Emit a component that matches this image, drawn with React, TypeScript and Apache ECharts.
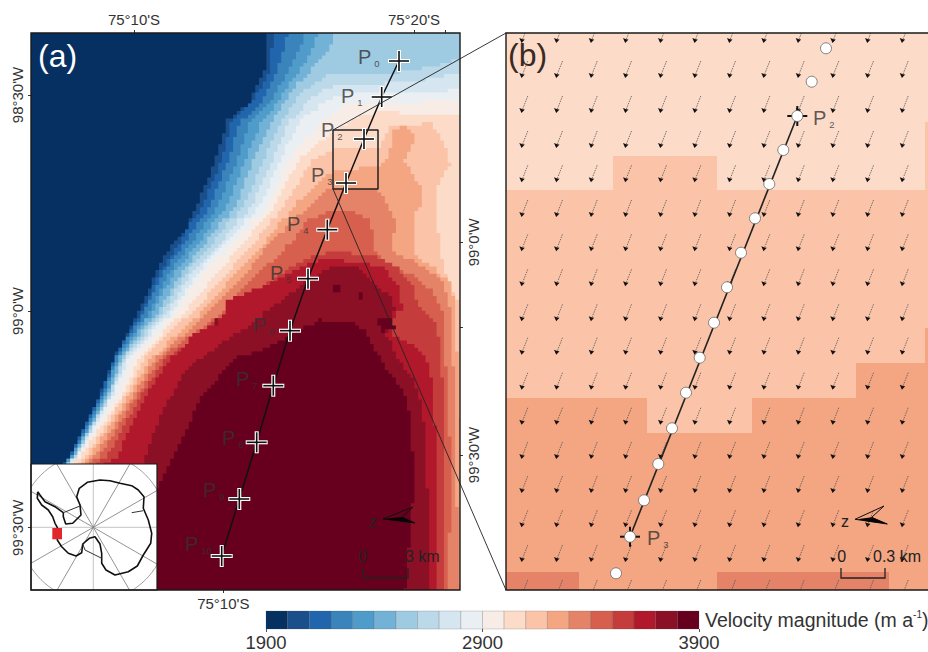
import React, { useEffect, useRef } from "react";
import * as echarts from "echarts";

const FONT = '"Liberation Sans", Arial, sans-serif';

// Velocity colour classes, 1900 to 3900 m/a
const bandColors = ["#053061","#1b4f8c","#2166ac","#3a83bb","#4f9bc9","#72b2d6","#9ecae2","#bcd9ea","#d6e6f0","#e9eff3","#f7ede6","#fcdcc9","#fbc4a9","#f4a582","#e58368","#d6604d","#c43c3c","#b2182b","#8b1026","#67001f"];
const legendEdges = [1900,2000,2100,2200,2300,2400,2500,2600,2700,2800,2900,3000,3100,3200,3300,3400,3500,3600,3700,3800,3900];
const legendTicks = [1900,2900,3900];

// Contours of panel (a): map position [x,y], each encloses "value >= class k"
const level0 = [[31,33],[460,33],[460,590],[31,590]];
const level1 = [[31,590],[45,500],[67,457],[83,430],[100,393],[113,360],[127,333],[140,307],[150,285],[157,270],[170,243],[177,237],[187,227],[197,203],[210,173],[215,160],[220,143],[227,120],[250,100],[265,67],[265,33],[460,33],[460,590]];
const level2 = [[31,590],[45,500],[68,457],[101,393],[115,357],[137,320],[160,270],[182,237],[203,203],[221,160],[232,120],[255,97],[270,67],[273,33],[460,33],[460,590]];
const level3 = [[31,590],[45,500],[69,457],[103,393],[116,357],[139,320],[163,270],[188,237],[210,203],[228,160],[240,120],[262,100],[278,67],[287,33],[460,33],[460,590]];
const level4 = [[31,590],[45,500],[70,457],[105,393],[118,357],[143,320],[170,270],[195,237],[218,203],[237,160],[250,120],[270,100],[290,67],[305,33],[460,33],[460,590]];
const level5 = [[31,590],[45,500],[71,457],[107,393],[120,357],[146,320],[175,270],[202,237],[227,203],[245,160],[262,120],[280,95],[303,65],[318,33],[460,33],[460,590]];
const level6 = [[31,590],[45,500],[72,457],[109,393],[122,357],[151,320],[182,270],[209,237],[236,203],[253,160],[272,120],[287,95],[300,80],[315,63],[330,47],[333,33],[460,33],[460,590]];
const level7 = [[31,590],[45,500],[73,457],[110,393],[124,357],[155,320],[187,270],[216,237],[244,203],[263,160],[282,120],[287,110],[300,93],[317,80],[330,73],[360,75],[393,73],[430,67],[460,58],[460,590]];
const level8 = [[31,590],[45,500],[74,457],[112,393],[126,357],[160,320],[192,270],[224,237],[252,203],[272,160],[290,120],[300,110],[313,95],[330,87],[357,85],[390,83],[423,80],[460,73],[460,590]];
const level9 = [[31,590],[45,500],[75,457],[113,393],[129,357],[164,320],[198,270],[231,237],[260,203],[280,160],[300,118],[320,105],[337,95],[360,92],[390,92],[423,92],[460,90],[460,590]];
const level10 = [[31,590],[45,500],[76,457],[118,393],[134,357],[168,320],[203,270],[238,237],[268,203],[288,160],[313,128],[327,117],[343,105],[360,102],[390,102],[417,102],[460,98],[460,590]];
const level11 = [[31,590],[45,500],[78,457],[123,393],[140,357],[175,320],[218,270],[247,237],[275,203],[298,160],[333,130],[350,120],[367,113],[393,112],[417,115],[460,115],[460,590]];
const level12 = [[31,590],[45,500],[83,457],[126,393],[146,357],[183,320],[228,270],[258,237],[284,203],[312,160],[333,148],[378,147],[390,127],[430,123],[447,150],[450,167],[437,187],[437,217],[440,253],[447,280],[455,300],[460,303],[460,590]];
const level13 = [[31,590],[45,500],[87,457],[130,393],[151,357],[192,320],[237,270],[268,237],[290,210],[303,195],[320,180],[333,170],[378,167],[387,157],[392,140],[393,130],[403,125],[415,140],[405,163],[420,187],[423,203],[413,217],[415,257],[435,270],[450,285],[456,310],[458,397],[460,420],[460,590]];
const level14 = [[31,590],[45,500],[92,457],[134,393],[156,357],[198,320],[247,270],[273,237],[290,223],[310,203],[330,188],[377,188],[390,210],[395,220],[393,253],[423,267],[442,283],[450,310],[455,400],[456,480],[460,590]];
const level15 = [[31,590],[45,500],[97,457],[138,393],[161,357],[210,320],[260,270],[290,243],[307,220],[323,213],[350,210],[367,220],[372,233],[373,253],[393,267],[413,277],[430,290],[443,313],[447,387],[450,447],[451,480],[448,590]];
const level16 = [[31,590],[45,500],[105,457],[142,393],[166,357],[215,320],[270,280],[295,262],[330,252],[370,255],[395,268],[413,287],[417,307],[437,323],[443,387],[445,480],[443,590]];
const level17 = [[31,590],[45,500],[115,457],[147,393],[172,357],[193,333],[207,327],[222,317],[227,300],[260,287],[307,263],[333,258],[347,263],[363,263],[380,267],[400,288],[402,310],[395,315],[392,335],[407,343],[425,357],[432,385],[436,447],[437,590]];
const level18 = [[31,590],[45,500],[143,463],[160,413],[187,367],[210,350],[240,330],[275,305],[300,285],[330,267],[357,267],[375,285],[392,300],[395,312],[390,325],[386,335],[395,355],[415,385],[423,410],[427,480],[431,590]];
const level19 = [[120,590],[150,500],[170,463],[187,427],[200,397],[220,373],[237,357],[260,350],[280,340],[297,330],[320,320],[347,322],[363,330],[370,343],[383,367],[400,387],[408,403],[412,447],[415,480],[410,537],[405,590]];
const panelALevels = [level0,level1,level2,level3,level4,level5,level6,level7,level8,level9,level10,level11,level12,level13,level14,level15,level16,level17,level18,level19];
const panelAPatchClass = [6,19,19,19,18];
const panelAPatches = [
  [[413,33],[435,33],[432,40],[418,40]],
  [[332,285],[342,285],[342,291],[332,291]],
  [[358,293],[362,293],[362,298],[358,298]],
  [[377,320],[392,320],[395,330],[382,332]],
  [[215,320],[219,320],[219,324],[215,324]],
];

// Transect points and zoom box, panel (a)
const transectX = [399,381.7,364,346,327.3,308,290,273.3,256.7,239.3,221.7];
const transectY = [61,97,139,183,229.7,278.7,330.7,385.7,442.3,499,556];
const pointNames = ["0","1","2","3","4","5","6","7","8","9","10"];
const nameX = [358,341,321,311,287,270,253,236,222,203,185];
const nameY = [57,96,130,175,224,273,325,379,438,490,544];
const zoomBox = [[333,130],[378,130],[378,189],[333,189],[333,130]];

// Panel (b) classes
const panelBClass = [11,12,13,14,14];
const panelBPolys = [
  [[506,33],[928,33],[928,590],[506,590]],
  [[506,190],[613,190],[613,156],[717,156],[717,190],[925,190],[925,122],[928,122],[928,590],[506,590]],
  [[506,398],[647,398],[647,433],[752,433],[752,398],[856,398],[856,363],[925,363],[925,328],[928,328],[928,590],[506,590]],
  [[506,572],[579,572],[579,590],[506,590]],
  [[717,572],[889,572],[889,590],[717,590]],
];
const arrowColumns = [522.3,557,591.7,626,661,695.3,730,764.3,798.7,833.3,868,902.7];
const arrowRows = [40,75,110,145,179.3,214,248.3,283.3,318.3,351.7,386.7,421.7,456,490,524.3,559,594];
const sampleX = [826,811.7,797.3,783.3,769.3,755,741,727,714,699.7,686,672,658.3,644,630,616];
const sampleY = [48.3,81.7,116,150,184,218.3,252.7,287.3,322.7,357.7,392.7,428.3,464,500.3,536.7,573.3];
const subLineStart = [797.3,116];
const subLineEnd = [630,536.7];
const crossB = [[797.3,116],[630,536.7]];
const crossBNames = ["2","3"];
const crossBLabelPos = [[813,118],[647,538]];

// Inset
const insetCentre = [93.3,527.3];
const insetRadius = 74;
const graticuleAngles = [0,30,60,90,120,150];
const coast = [[37.7,491.7],[37.3,498.3],[41.7,505],[48.3,510],[52.7,516.7],[55,523.3],[57.3,527.3],[57.3,540],[61.7,546.7],[68.3,553.3],[76,556],[81.7,552.7],[82.7,544],[89.3,538.3],[95,536.7],[100,544],[101.7,553.3],[101.7,563.3],[106,570],[115,575],[128.3,571.7],[137.3,566],[143.3,555],[150.7,543.3],[151.7,533.3],[148.3,520],[143.3,508.3],[144,496.7],[138.3,490],[131.7,485.7],[120,483.3],[110,480.7],[100,480],[87.3,482.3],[79.3,488.3],[76.7,496.7],[80,505],[81,515],[72.7,523.3],[65.7,524],[63.3,516.7],[63.3,512.7],[55,506.7],[45,501.7],[40,495],[37.7,491.7]];
const ronneFront = [[63.3,512.7],[80,506]];
const rossFront = [[82.7,544],[85,550],[101.7,558.3]];
const ameryFront = [[131.7,512.7],[143.3,510.7]];
const studyArea = [[52.3,528],[62,528],[62,539.3],[52.3,539.3]];

// Axis ticks
const topTicks = [134,414,445];
const topLabels = {134:"75°10'S",414:"75°20'S"};
const bottomTicks = [223.3];
const bottomLabels = {223.3:"75°10'S"};
const leftTicks = [95,311,527.7];
const leftLabels = {95:"98°30'W",311:"99°0'W",527.7:"99°30'W"};
const rightTicks = [242.3,327,455];
const rightLabels = {242.3:"99°0'W",455:"99°30'W"};

const STEP = 3.7;
function snap(v:number, lo:number, hi:number){
  if (v<=lo) return lo;
  if (v>=hi) return hi;
  return Math.min(hi,Math.max(lo,Math.round(v/STEP)*STEP));
}
function staircase(pts:number[][]){
  const out:number[][] = [];
  let px:number|null=null, py:number|null=null;
  for(let i=0;i<pts.length;i++){
    const a=pts[i], b=pts[(i+1)%pts.length];
    const n=Math.max(1,Math.ceil(Math.max(Math.abs(b[0]-a[0]),Math.abs(b[1]-a[1]))/STEP));
    for(let j=0;j<n;j++){
      const x=snap(a[0]+(b[0]-a[0])*j/n,31,460), y=snap(a[1]+(b[1]-a[1])*j/n,33,590);
      if(px!==null && py!==null && x!==px && y!==py) out.push([x,py]);
      out.push([x,y]); px=x; py=y;
    }
  }
  return out;
}

function polySeries(xi:number, polys:number[][][], classes:number[], z:number, stepped:boolean){
  const cached = polys.map(p=> stepped? staircase(p): p);
  return {
    type:"custom", xAxisIndex:xi, yAxisIndex:xi, z, silent:true, clip:true,
    data: polys.map((_,i)=>[i]), encode:{x:0,y:0},
    renderItem:(_:any, api:any)=>{
      const i=api.value(0);
      return {type:"polygon",shape:{points:cached[i].map((p:number[])=>api.coord(p))},style:{fill:bandColors[classes[i]],stroke:null}};
    }
  };
}
function crossSeries(xi:number, pts:number[][], z:number, halo:boolean){
  return {
    type:"custom", xAxisIndex:xi, yAxisIndex:xi, z, silent:true, clip:true, data:pts, encode:{x:0,y:1},
    renderItem:(_:any, api:any)=>{
      const c=api.coord([api.value(0),api.value(1)]);
      const L=11; const kids:any[]=[];
      if(halo){
        kids.push({type:"line",shape:{x1:c[0]-L,y1:c[1],x2:c[0]+L,y2:c[1]},style:{stroke:"#fff",lineWidth:4}});
        kids.push({type:"line",shape:{x1:c[0],y1:c[1]-L,x2:c[0],y2:c[1]+L},style:{stroke:"#fff",lineWidth:4}});
      }
      kids.push({type:"line",shape:{x1:c[0]-L+1,y1:c[1],x2:c[0]+L-1,y2:c[1]},style:{stroke:"#111",lineWidth:halo?1.6:2}});
      kids.push({type:"line",shape:{x1:c[0],y1:c[1]-L+1,x2:c[0],y2:c[1]+L-1},style:{stroke:"#111",lineWidth:halo?1.6:2}});
      return {type:"group",children:kids};
    }
  };
}
function labelSeries(xi:number, pos:number[][], names:string[], z:number){
  return {
    type:"scatter", xAxisIndex:xi, yAxisIndex:xi, z, symbolSize:0, silent:true,
    data: pos.map((p,i)=>({value:p,name:names[i]})),
    label:{show:true,position:"right",distance:0,
      formatter:(p:any)=>`{p|P}{s|${p.name}}`,
      rich:{p:{fontFamily:FONT,fontSize:20,color:"#333",lineHeight:22,verticalAlign:"middle"},
            s:{fontFamily:FONT,fontSize:9.5,color:"#333",lineHeight:22,verticalAlign:"bottom",padding:[0,0,0,3]}}}
  };
}
function northArrow(zx:number, zy:number, pts:{out:number[][],fill:number[][]}){
  return [
    {type:"text",z:60,x:zx,y:zy,style:{text:"z",font:`16px ${FONT}`,fill:"#222",align:"center",verticalAlign:"middle"}},
    {type:"polygon",z:60,shape:{points:pts.out},style:{fill:"none",stroke:"#111",lineWidth:1}},
    {type:"polygon",z:61,shape:{points:pts.fill},style:{fill:"#050505",stroke:null}},
  ];
}
function scaleBar(x0:number, x1:number, zeroX:number, text:string, textX:number){
  return [
    {type:"polyline",z:60,shape:{points:[[x0,568],[x0,578],[x1,578],[x1,568]]},style:{fill:"none",stroke:"#222",lineWidth:1.3}},
    {type:"text",z:60,x:zeroX,y:556,style:{text:"0",font:`16px ${FONT}`,fill:"#222",align:"center",verticalAlign:"middle"}},
    {type:"text",z:60,x:textX,y:556,style:{text,font:`16px ${FONT}`,fill:"#222",align:"left",verticalAlign:"middle"}},
  ];
}
const tickStyle={show:true,length:3,lineStyle:{color:"#333",width:1}};
const labelStyle={fontFamily:FONT,fontSize:15,color:"#333"};
function mapXAxis(grid:number,min:number,max:number,position:string,ticks:number[],labels:any){
  const keys=Object.keys(labels).map(Number);
  return {type:"value",gridIndex:grid,min,max,position,axisLine:{show:false},splitLine:{show:false},
    axisTick:{...tickStyle,show:ticks.length>0,customValues:ticks},
    axisLabel:{...labelStyle,show:keys.length>0,margin:6,customValues:keys,formatter:(v:number)=>labels[v]??""}};
}
function mapYAxis(grid:number,position:string,ticks:number[],labels:any){
  const keys=Object.keys(labels).map(Number);
  return {type:"value",gridIndex:grid,min:33,max:590,inverse:true,position,axisLine:{show:false},splitLine:{show:false},
    axisTick:{...tickStyle,show:ticks.length>0,customValues:ticks},
    axisLabel:{...labelStyle,show:keys.length>0,rotate:90,margin:6,customValues:keys,formatter:(v:number)=>labels[v]??""}};
}
const hiddenAxis=(grid:number,min:number,max:number,inverse=false)=>({type:"value",gridIndex:grid,min,max,inverse,show:false});

export default function App(){
  const ref=useRef<HTMLDivElement>(null);
  useEffect(()=>{
    document.body.style.margin="0";
    const chart=echarts.init(ref.current!,undefined,{renderer:"svg"});
    const lineS=(xi:number,data:number[][],z:number,color:string,width:number)=>({type:"line",xAxisIndex:xi,yAxisIndex:xi,data,z,showSymbol:false,silent:true,clip:true,lineStyle:{color,width}});
    const arrows:number[][]=[];
    arrowRows.forEach(y=>arrowColumns.forEach(x=>arrows.push([x,y])));
    chart.setOption({
      animation:false,
      backgroundColor:"#fff",
      grid:[
        {left:31,top:33,width:429,height:557},
        {left:506,top:33,width:422,height:557},
        {left:31,top:464,width:126,height:126},
        {left:266,top:611,width:433,height:19},
      ],
      xAxis:[
        mapXAxis(0,31,460,"bottom",bottomTicks,bottomLabels),
        hiddenAxis(1,506,928),
        hiddenAxis(2,31,157),
        {type:"value",gridIndex:3,min:1900,max:3900,position:"bottom",axisLine:{show:false},splitLine:{show:false},
          axisTick:{show:true,length:3,lineStyle:{color:"#555"},customValues:legendTicks},
          axisLabel:{fontFamily:FONT,fontSize:18.5,color:"#333",margin:4,customValues:legendTicks,formatter:(v:number)=>String(v)}},
        mapXAxis(0,31,460,"top",topTicks,topLabels),
      ],
      yAxis:[
        mapYAxis(0,"left",leftTicks,leftLabels),
        hiddenAxis(1,33,590,true),
        hiddenAxis(2,464,590,true),
        hiddenAxis(3,0,1),
        mapYAxis(0,"right",rightTicks,rightLabels),
      ],
      series:[
        polySeries(0,panelALevels,panelALevels.map((_,i)=>i),2,true),
        polySeries(0,panelAPatches,panelAPatchClass,3,true),
        lineS(0,transectX.map((x,i)=>[x,transectY[i]]),5,"#111",1.5),
        lineS(0,zoomBox,5,"#222",1.5),
        crossSeries(0,transectX.map((x,i)=>[x,transectY[i]]),6,true),
        labelSeries(0,nameX.map((x,i)=>[x,nameY[i]]),pointNames,7),

        polySeries(1,panelBPolys,panelBClass,2,false),
        {type:"custom",xAxisIndex:1,yAxisIndex:1,z:3,silent:true,clip:true,data:arrows,encode:{x:0,y:1},
          renderItem:(_:any,api:any)=>{
            const c=api.coord([api.value(0),api.value(1)]);
            return {type:"group",children:[
              {type:"line",shape:{x1:c[0]+5.5,y1:c[1]-14,x2:c[0],y2:c[1]},style:{stroke:"#555",lineWidth:0.8,lineDash:[1.5,1]}},
              {type:"polygon",shape:{points:[[c[0]-0.8,c[1]+3],[c[0]-3,c[1]-2],[c[0]+0.3,c[1]-0.8],[c[0]+2.5,c[1]-0.5]]},style:{fill:"#111",stroke:null}},
            ]};
          }},
        lineS(1,[subLineStart,subLineEnd],4,"#222",1.6),
        crossSeries(1,crossB,8,false),
        {type:"scatter",xAxisIndex:1,yAxisIndex:1,z:12,zlevel:0,silent:true,symbol:"circle",symbolSize:11,
          data:sampleX.map((x,i)=>[x,sampleY[i]]),itemStyle:{color:"#ffffff",opacity:1,borderColor:"#666",borderWidth:0.8}},
        labelSeries(1,crossBLabelPos,crossBNames,13),

        // inset
        {type:"custom",xAxisIndex:2,yAxisIndex:2,z:20,silent:true,clip:true,data:[[0]],encode:{x:0,y:0},
          renderItem:(p:any)=>({type:"rect",shape:{x:p.coordSys.x,y:p.coordSys.y,width:p.coordSys.width,height:p.coordSys.height},style:{fill:"#fff",stroke:null}})},
        {type:"custom",xAxisIndex:2,yAxisIndex:2,z:21,silent:true,clip:true,data:graticuleAngles.map(a=>[a]),encode:{x:0,y:0},
          renderItem:(_:any,api:any)=>{
            const a=api.value(0)*Math.PI/180, c=api.coord(insetCentre);
            const dx=Math.sin(a)*insetRadius, dy=Math.cos(a)*insetRadius;
            const axial=api.value(0)%90===0;
            return {type:"line",shape:{x1:c[0]-dx,y1:c[1]-dy,x2:c[0]+dx,y2:c[1]+dy},style:{stroke:axial?"#b5b5b5":"#777",lineWidth:0.8}};
          }},
        {type:"custom",xAxisIndex:2,yAxisIndex:2,z:21,silent:true,clip:true,data:[insetCentre],encode:{x:0,y:1},
          renderItem:(_:any,api:any)=>{
            const c=api.coord([api.value(0),api.value(1)]);
            return {type:"circle",shape:{cx:c[0],cy:c[1],r:insetRadius},style:{fill:"none",stroke:"#888",lineWidth:0.8}};
          }},
        lineS(2,coast,22,"#111",1.6),
        lineS(2,ronneFront,22,"#333",1),
        lineS(2,rossFront,22,"#333",1),
        lineS(2,ameryFront,22,"#333",1),
        {type:"custom",xAxisIndex:2,yAxisIndex:2,z:23,silent:true,data:[[0]],encode:{x:0,y:0},
          renderItem:(_:any,api:any)=>({type:"polygon",shape:{points:studyArea.map(p=>api.coord(p))},style:{fill:"#e0282c",stroke:null}})},

        // colour bar
        {type:"custom",xAxisIndex:3,yAxisIndex:3,z:2,silent:true,
          data:bandColors.map((_,i)=>[legendEdges[i],legendEdges[i+1],i]),encode:{x:[0,1]},
          renderItem:(p:any,api:any)=>{
            const a=api.coord([api.value(0),1]),b=api.coord([api.value(1),0]);
            return {type:"rect",shape:{x:a[0],y:a[1],width:b[0]-a[0],height:b[1]-a[1]},style:{fill:bandColors[api.value(2)],stroke:"rgba(70,70,70,0.35)",lineWidth:0.6}};
          }},
      ],
      graphic:[
        {type:"rect",z:100,shape:{x:31,y:33,width:429,height:557},style:{fill:"none",stroke:"#1a1a1a",lineWidth:1.4}},
        {type:"rect",z:100,shape:{x:31,y:464,width:126,height:126},style:{fill:"none",stroke:"#1a1a1a",lineWidth:1.2}},
        {type:"polyline",z:100,shape:{points:[[928,33],[506,33],[506,590],[928,590]]},style:{fill:"none",stroke:"#1a1a1a",lineWidth:1.4}},
        {type:"line",z:50,shape:{x1:333,y1:130,x2:506,y2:33},style:{stroke:"#222",lineWidth:0.9}},
        {type:"line",z:50,shape:{x1:333,y1:189,x2:506,y2:590},style:{stroke:"#222",lineWidth:0.9}},
        {type:"text",z:60,x:38,y:56,style:{text:"(a)",font:`32px ${FONT}`,fill:"#fff",align:"left",verticalAlign:"middle"}},
        {type:"text",z:60,x:508,y:55,style:{text:"(b)",font:`32px ${FONT}`,fill:"#3a2a22",align:"left",verticalAlign:"middle"}},
        ...northArrow(373,521,{out:[[383,519],[413,507],[402,517],[415,523]],fill:[[383,519],[402,517],[415,523],[398,521]]}),
        ...northArrow(845,521,{out:[[855,519.3],[884,506],[871.7,517.3],[887.3,524]],fill:[[857,519.3],[871.7,517.3],[887.3,524],[868,521.5]]}),
        ...scaleBar(363,408,363,"3 km",405),
        ...scaleBar(841,885,841.7,"0.3 km",873),
        {type:"text",z:60,x:705,y:620,style:{text:"{a|Velocity magnitude (m a}{s|-1}{a|)}",align:"left",verticalAlign:"middle",
          rich:{a:{font:`19.5px ${FONT}`,fill:"#333",lineHeight:22,verticalAlign:"middle"},s:{font:`10px ${FONT}`,fill:"#333",lineHeight:22,verticalAlign:"top"}}}},
      ],
    });
    return ()=>chart.dispose();
  },[]);
  return <div ref={ref} style={{width:928,height:652}}/>;
}
